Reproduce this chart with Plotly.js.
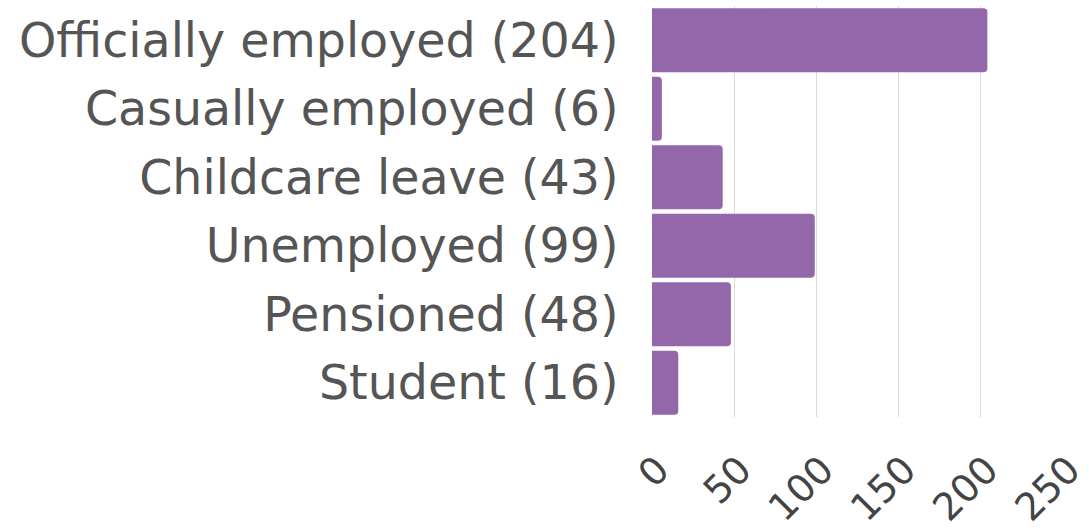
<!DOCTYPE html>
<html><head><meta charset="utf-8">
<script src="https://cdn.plot.ly/plotly-3.0.1.min.js"></script>
<style>html,body{margin:0;padding:0;background:#fff;}#chart{width:1089px;height:530px;}</style>
</head><body><div id="chart"></div>
<script>
const categories = ["Officially employed (204)", "Casually employed (6)", "Childcare leave (43)", "Unemployed (99)", "Pensioned (48)", "Student (16)"];
const counts = [204, 6, 43, 99, 48, 16];
const tickValues = [0, 50, 100, 150, 200, 250];

const trace = {
  type: 'bar', orientation: 'h',
  x: counts, y: categories,
  marker: {color: '#9367aa'},
  hoverinfo: 'none'
};
const layout = {
  width: 1089, height: 530,
  margin: {l: 652, r: 26, t: 6, b: 113},
  paper_bgcolor: '#fff', plot_bgcolor: '#fff',
  bargap: 0.066,
  barcornerradius: 4,
  font: {family: 'DejaVu Sans, sans-serif', color: '#555'},
  showlegend: false,
  xaxis: {
    range: [0, 250], tickvals: tickValues, ticktext: tickValues.map(String),
    tickangle: -45, tickfont: {size: 38, color: '#444'},
    showgrid: true, gridcolor: '#dadada', gridwidth: 1,
    zeroline: false, showline: false,
    ticks: 'outside', ticklen: 14, tickcolor: 'rgba(0,0,0,0)',
    ticklabelshift: 6
  },
  yaxis: {
    autorange: 'reversed', tickfont: {size: 47.5, color: '#555'},
    showgrid: false, zeroline: false, showline: false,
    ticks: 'outside', ticklen: 23, tickcolor: 'rgba(0,0,0,0)'
  }
};
Plotly.newPlot('chart', [trace], layout, {staticPlot: true, displayModeBar: false});
</script></body></html>
